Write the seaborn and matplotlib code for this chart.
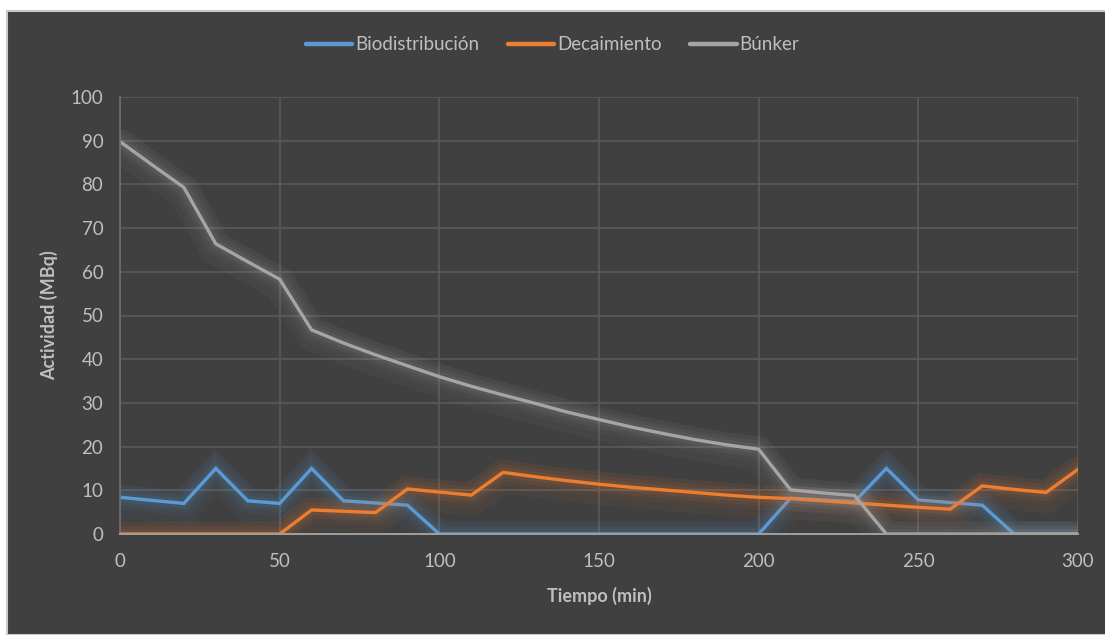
import numpy as np
import pandas as pd
import matplotlib
matplotlib.use("Agg")
import matplotlib.pyplot as plt
import matplotlib.patheffects as pe
from matplotlib.patches import Rectangle
import seaborn as sns

# data
tiempo = list(range(0, 301, 10))
biodistribucion = [8.4, 7.7, 7.0, 15.0, 7.6, 7.0, 15.0, 7.6, 7.1, 6.6,
                   0, 0, 0, 0, 0, 0, 0, 0, 0, 0,
                   0, 8.2, 7.8, 7.4, 15.0, 7.8, 7.2, 6.6, 0, 0, 0]
decaimiento = [0, 0, 0, 0, 0, 0, 5.5, 5.2, 4.9, 10.3,
               9.6, 8.9, 14.1, 13.1, 12.2, 11.4, 10.7, 10.1, 9.5, 8.9,
               8.4, 8.1, 7.6, 7.1, 6.6, 6.1, 5.7, 11.0, 10.2, 9.5, 14.8]
bunker = [89.8, 84.5, 79.3, 66.4, 62.3, 58.3, 46.7, 43.7, 41.0, 38.5,
          36.0, 33.8, 31.8, 29.9, 27.9, 26.2, 24.5, 23.0, 21.6, 20.4,
          19.4, 10.1, 9.4, 8.8, 0, 0, 0, 0, 0, 0, 0]
series = ["Biodistribución", "Decaimiento", "Búnker"]
colores = ["#5B9BD5", "#ED7D31", "#A5A5A5"]

df = pd.DataFrame({"Tiempo": tiempo, series[0]: biodistribucion,
                   series[1]: decaimiento, series[2]: bunker})
df_long = df.melt(id_vars="Tiempo", var_name="Serie", value_name="Actividad")

sns.set_theme(style="dark")
plt.rcParams["font.family"] = ["Lato", "DejaVu Sans"]
txt = "#BFBFBF"
bg = "#404040"

fig = plt.figure(figsize=(11.05, 6.35), dpi=100, facecolor="white")
fig.patches.append(Rectangle((7 / 1105, 0), 1, 1 - 11 / 635, transform=fig.transFigure,
                             facecolor=bg, edgecolor="#C8C8C8", linewidth=1.5, zorder=-10))
ax = fig.add_axes([120 / 1105, 1 - 534 / 635, (1078 - 120) / 1105, (534 - 97) / 635])
ax.set_facecolor(bg)

sns.lineplot(data=df_long, x="Tiempo", y="Actividad", hue="Serie", hue_order=series,
             palette=colores, linewidth=2.4, ax=ax, legend=True)

glow = [pe.Stroke(offset=(0, -3), linewidth=24, alpha=0.05),
        pe.Stroke(linewidth=18, alpha=0.05), pe.Stroke(linewidth=12, alpha=0.07),
        pe.Stroke(linewidth=7, alpha=0.10), pe.Normal()]
for ln in ax.lines:
    ln.set_path_effects(glow)
    ln.set_solid_joinstyle("miter")

ax.set_xlim(0, 300)
ax.set_ylim(0, 100)
ax.set_xticks(range(0, 301, 50))
ax.set_yticks(range(0, 101, 10))
ax.grid(True, color="#5A5A5A", linewidth=1.2)
ax.set_axisbelow(True)
for s in ["top", "right"]:
    ax.spines[s].set_visible(False)
ax.spines["left"].set_color("#6E6E6E")
ax.spines["bottom"].set_color("#A0A0A0")
ax.spines["bottom"].set_linewidth(1.4)
ax.tick_params(colors=txt, labelsize=13.5, length=0)
ax.tick_params(axis="x", pad=14)
ax.tick_params(axis="y", pad=12)

ax.set_xlabel("Tiempo (min)", color=txt, fontsize=13, fontweight="bold", labelpad=12)
ax.set_ylabel("Actividad (MBq)", color=txt, fontsize=13, fontweight="bold", labelpad=9)

handles, labels = ax.get_legend_handles_labels()
ax.get_legend().remove()
leg = fig.legend(handles, labels, loc="center", bbox_to_anchor=(0.5, 1 - 45 / 635), ncol=3,
                 frameon=False, fontsize=13.5, handlelength=2.5, handletextpad=0.15,
                 columnspacing=1.5)
for t in leg.get_texts():
    t.set_color(txt)
for h in leg.get_lines():
    h.set_linewidth(3.2)
    h.set_solid_capstyle("round")
    h.set_path_effects([])

fig.savefig("out.png", dpi=100, facecolor="white")
